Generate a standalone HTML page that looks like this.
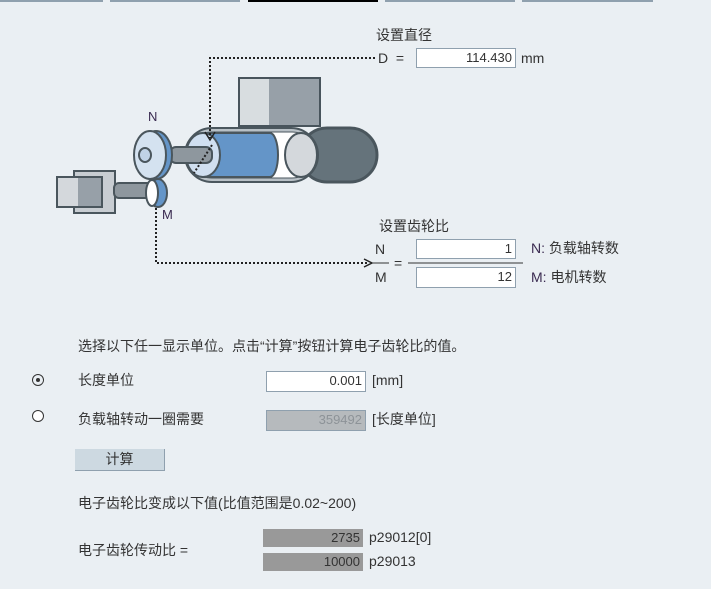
<!DOCTYPE html>
<html><head><meta charset="utf-8"><style>
body{margin:0;width:711px;height:589px;background:#eaeff3;font-family:"Liberation Sans","Noto Sans CJK SC",sans-serif;font-size:14px;color:#333;position:relative;overflow:hidden}
.a{position:absolute;white-space:nowrap;line-height:16px}
.in{position:absolute;background:#fff;border:1px solid #8fa0ae;box-sizing:border-box;text-align:right;padding-right:3px;font-size:13px;line-height:18px}
.g{position:absolute;background:#999;text-align:right;padding-right:3px;box-sizing:border-box;font-size:13px;line-height:17px}
.t{position:absolute;top:0;height:2px;background:#8fa0ae}
</style></head><body>
<div class="t" style="left:0;width:103px"></div>
<div class="t" style="left:110px;width:130px"></div>
<div class="t" style="left:248px;width:130px;background:#000"></div>
<div class="t" style="left:385px;width:130px"></div>
<div class="t" style="left:522px;width:131px"></div>

<svg width="711" height="300" style="position:absolute;left:0;top:0">
<!-- drum -->
<rect x="300" y="128" width="77" height="54" rx="27" fill="#65737b" stroke="#4a565d" stroke-width="3"/>
<!-- top box -->
<rect x="239" y="78" width="81" height="48" fill="#97a0a8" stroke="#48545c" stroke-width="2"/>
<rect x="240" y="79" width="29" height="46" fill="#d8dde0"/>
<!-- belt -->
<rect x="185" y="128" width="133" height="54" rx="27" fill="#b8c0c6" stroke="#4a565d" stroke-width="2"/>
<rect x="189" y="132" width="126" height="46" rx="23" fill="#fff" stroke="#4a565d" stroke-width="1"/>
<ellipse cx="301" cy="155" rx="16" ry="22" fill="#d4d8dc" stroke="#4a565d" stroke-width="2"/>
<path d="M203 133 H270 A8 22 0 0 1 270 177 H203 Z" fill="#6495c8" stroke="#4a565d" stroke-width="2"/>
<ellipse cx="203" cy="155" rx="17" ry="22" fill="#d0dff0" stroke="#4a565d" stroke-width="2"/>
<!-- shaft -->
<rect x="170" y="147" width="42" height="16" rx="6" fill="#8e979e" stroke="#4a565d" stroke-width="2"/>
<!-- N gear -->
<ellipse cx="156" cy="155" rx="16" ry="24" fill="#6495c8" stroke="#4a565d" stroke-width="2"/>
<ellipse cx="150" cy="155" rx="16" ry="24" fill="#d4e2f0" stroke="#4a565d" stroke-width="2"/>
<ellipse cx="145" cy="155" rx="6" ry="7" fill="#c0d2e6" stroke="#4a565d" stroke-width="2"/>
<!-- small motor -->
<rect x="74" y="171" width="41" height="42" fill="#c8cdd2" stroke="#4a565d" stroke-width="2"/>
<rect x="57" y="177" width="45" height="30" fill="#97a0a8" stroke="#4a565d" stroke-width="2"/>
<rect x="58" y="178" width="20" height="28" fill="#d4d8dc"/>
<rect x="114" y="183" width="40" height="15" rx="5" fill="#8e979e" stroke="#4a565d" stroke-width="2"/>
<ellipse cx="158" cy="193" rx="9" ry="14" fill="#6495c8" stroke="#4a565d" stroke-width="2"/>
<ellipse cx="152" cy="193" rx="6" ry="13" fill="#fff" stroke="#4a565d" stroke-width="2"/>
<!-- dotted connectors -->
<g stroke="#222" stroke-width="2" stroke-dasharray="2,2" fill="none">
<path d="M375 58 H210 V138"/>
<path d="M212 145 L194 173"/>
<path d="M156 208 V263 H368"/>
</g>
<path d="M205 132 L210 140 L215 132" stroke="#222" stroke-width="1.5" fill="none"/>
<path d="M364 259 L372 263 L364 267" stroke="#222" stroke-width="1.5" fill="none"/>
<line x1="373" y1="263" x2="389" y2="263" stroke="#333"/>
<line x1="408" y1="263" x2="523" y2="263" stroke="#333"/>
<line x1="255" y1="549" x2="371" y2="549" stroke="#333"/>
</svg>
<div class="a" style="left:148px;top:109px;color:#3a2a50;font-size:13px">N</div>
<div class="a" style="left:162px;top:207px;color:#3a2a50;font-size:13px">M</div>

<div class="a" style="left:376px;top:27px">设置直径</div>
<div class="a" style="left:378px;top:50px">D&nbsp;&nbsp;=</div>
<div class="in" style="left:416px;top:48px;width:100px;height:20px">114.430</div>
<div class="a" style="left:521px;top:50px">mm</div>
<div class="a" style="left:379px;top:218px">设置齿轮比</div>
<div class="a" style="left:375px;top:241px">N</div>
<div class="a" style="left:375px;top:269px">M</div>
<div class="a" style="left:394px;top:255px">=</div>
<div class="in" style="left:416px;top:239px;width:100px;height:20px">1</div>
<div class="in" style="left:416px;top:267px;width:100px;height:21px">12</div>
<div class="a" style="left:531px;top:240px"><span style="color:#3a2a50">N:</span> 负载轴转数</div>
<div class="a" style="left:531px;top:269px"><span style="color:#3a2a50">M:</span> 电机转数</div>

<div class="a" style="left:78px;top:338px">选择以下任一显示单位。点击“计算”按钮计算电子齿轮比的值。</div>
<div style="position:absolute;left:32px;top:374px;width:10px;height:10px;border:1px solid #333;border-radius:50%"></div>
<div style="position:absolute;left:36px;top:378px;width:4px;height:4px;background:#333;border-radius:50%"></div>
<div class="a" style="left:78px;top:372px">长度单位</div>
<div class="in" style="left:266px;top:371px;width:100px;height:21px">0.001</div>
<div class="a" style="left:372px;top:372px">[mm]</div>
<div style="position:absolute;left:32px;top:410px;width:10px;height:10px;border:1px solid #333;border-radius:50%;background:#fff"></div>
<div class="a" style="left:78px;top:411px">负载轴转动一圈需要</div>
<div class="in" style="left:266px;top:410px;width:100px;height:21px;background:#b6babd;color:#8d9398">359492</div>
<div class="a" style="left:372px;top:411px">[长度单位]</div>
<div style="position:absolute;left:75px;top:449px;width:90px;height:22px;background:#cdd9e1;border-bottom:1px solid #8fa0ae;border-right:1px solid #8fa0ae;box-sizing:border-box;text-align:center;line-height:20px">计算</div>
<div class="a" style="left:78px;top:495px">电子齿轮比变成以下值(比值范围是0.02~200)</div>
<div class="a" style="left:78px;top:542px">电子齿轮传动比 =</div>
<div class="g" style="left:263px;top:529px;width:100px;height:18px">2735</div>
<div class="g" style="left:263px;top:553px;width:100px;height:18px">10000</div>
<div class="a" style="left:369px;top:529px">p29012[0]</div>
<div class="a" style="left:369px;top:553px">p29013</div>
</body></html>
